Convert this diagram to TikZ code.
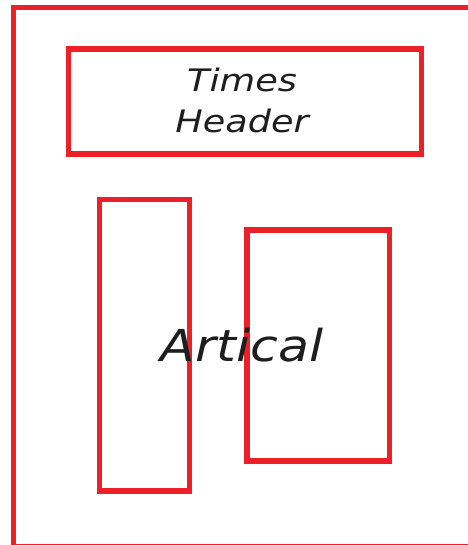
\documentclass[tikz,border=0pt]{standalone}
\usepackage{fontspec}
\setmainfont{DejaVu Sans}
\definecolor{boxred}{RGB}{237,32,39}
\definecolor{ink}{RGB}{30,30,30}
\begin{document}
\begin{tikzpicture}[x=1pt,y=-1pt,
  redbox/.style={draw=boxred,line width=5.5pt},
  label/.style={text=ink,align=center,inner sep=0pt,transform shape}]
\useasboundingbox (0,0) rectangle (467,545);
\draw[redbox] (13.5,7.5) rectangle (475,546.5);
\draw[redbox] (68.5,49) rectangle (421.5,154) node[midway] (hdrbox) {};
\draw[redbox] (99.5,199.5) rectangle (189.5,491) node[midway] (leftbox) {};
\draw[redbox] (247,230) rectangle (389.5,461) node[midway] (rightbox) {};
\node[label,xscale=1.18,font=\fontsize{31}{40}\selectfont\itshape] (hdr) at (242,100) {Times\\[1pt]Header};
\node[label,xscale=1.15,font=\fontsize{44}{50}\selectfont\itshape] (art) at (242,345) {Artical};
\end{tikzpicture}
\end{document}
